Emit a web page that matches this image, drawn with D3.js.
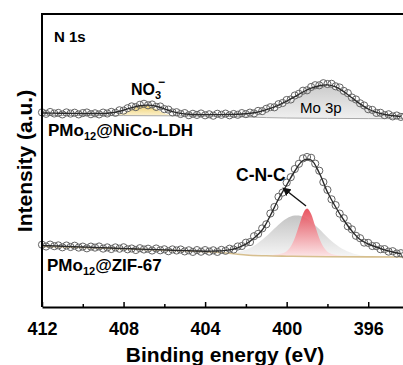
<!DOCTYPE html>
<html>
<head>
<meta charset="utf-8">
<script src="https://cdn.jsdelivr.net/npm/d3@7"></script>
<style>
  body { margin: 0; background: #fff; }
  svg text { font-family: Arial, "Liberation Sans", sans-serif; }
</style>
</head>
<body>
<div id="xps"></div>
<script>
// binding energy grid of the measured points (eV)
const energy = [
  412.0,411.8,411.6,411.4,411.2,411.0,410.8,410.6,410.4,410.2,
  410.0,409.8,409.6,409.4,409.2,409.0,408.8,408.6,408.4,408.2,
  408.0,407.8,407.6,407.4,407.2,407.0,406.8,406.6,406.4,406.2,
  406.0,405.8,405.6,405.4,405.2,405.0,404.8,404.6,404.4,404.2,
  404.0,403.8,403.6,403.4,403.2,403.0,402.8,402.6,402.4,402.2,
  402.0,401.8,401.6,401.4,401.2,401.0,400.8,400.6,400.4,400.2,
  400.0,399.8,399.6,399.4,399.2,399.0,398.8,398.6,398.4,398.2,
  398.0,397.8,397.6,397.4,397.2,397.0,396.8,396.6,396.4,396.2,
  396.0,395.8,395.6,395.4,395.2,395.0,394.8,394.6,394.4,394.2];

// PMo12@NiCo-LDH raw intensity (a.u., offset)
const nicoData = [
  194.6,193.2,195.0,193.5,194.1,192.6,194.6,193.4,194.3,192.6,
  193.9,194.5,192.8,193.7,192.6,194.4,193.5,195.1,194.2,196.7,
  196.4,198.8,200.6,199.9,202.2,203.2,201.7,202.5,200.1,200.5,
  197.9,197.4,194.6,194.8,193.0,193.9,191.8,193.2,192.1,193.5,
  191.7,192.7,191.3,193.2,192.2,193.4,191.7,193.0,192.2,193.9,
  192.9,194.4,193.6,196.1,195.9,198.2,199.8,199.7,202.8,204.0,
  207.0,207.5,211.5,213.2,216.3,216.7,220.0,221.8,221.7,223.8,
  223.0,223.2,220.7,219.5,216.1,213.9,209.5,207.5,203.7,201.5,
  197.8,197.1,194.1,194.2,191.9,192.7,190.6,191.5,190.1,190.7];

// PMo12@ZIF-67 raw intensity
const zifData = [
  62.3,60.5,62.4,60.8,61.6,59.7,61.5,60.0,61.3,59.4,
  60.4,58.7,60.4,59.4,60.5,58.4,59.6,58.0,59.6,58.3,
  59.7,57.7,58.5,57.0,58.8,57.5,58.3,56.5,58.5,56.7,
  57.7,55.8,57.6,56.5,57.5,55.6,56.7,55.1,56.9,55.3,
  56.9,55.4,56.7,55.1,57.1,56.2,58.3,57.5,60.5,61.0,
  64.3,64.9,70.8,73.1,78.6,82.7,93.5,100.0,110.2,114.4,
  124.4,129.8,138.0,143.2,148.6,150.0,149.2,143.4,136.3,124.9,
  117.1,107.7,101.9,93.4,88.8,80.7,77.6,71.2,68.8,64.4,
  64.1,61.0,60.9,57.8,57.9,55.4,55.8,53.5,53.8,52.1];

// fitted envelopes
const fitEnergy = [
  412.0,411.6,411.2,410.8,410.4,410.0,409.6,409.2,408.8,408.4,
  408.0,407.6,407.2,406.8,406.4,406.0,405.6,405.2,404.8,404.4,
  404.0,403.6,403.2,402.8,402.4,402.0,401.6,401.2,400.8,400.4,
  400.0,399.6,399.2,398.8,398.4,398.0,397.6,397.2,396.8,396.4,
  396.0,395.6,395.2,394.8,394.4];
const nicoFit = [
  194.0,193.9,193.8,193.7,193.6,193.5,193.5,193.5,193.8,194.8,
  196.8,199.3,201.3,201.9,200.7,198.2,195.4,193.6,192.8,192.5,
  192.4,192.4,192.4,192.5,192.7,193.2,194.2,196.1,198.6,201.8,
  205.8,210.4,215.0,218.8,221.3,222.1,220.1,215.3,209.2,203.1,
  198.0,194.6,192.5,191.3,190.5];
const zifFit = [
  61.5,61.2,61.0,60.6,60.3,60.0,59.7,59.4,59.1,58.8,
  58.5,58.2,57.9,57.6,57.4,57.1,56.8,56.5,56.3,56.0,
  55.8,55.9,56.1,57.1,59.2,62.8,69.0,77.0,91.5,108.0,
  122.0,136.0,146.5,147.0,134.0,115.0,100.0,87.0,76.0,67.5,
  63.0,60.0,57.2,55.0,53.2];

// backgrounds
const nicoBgE = [412, 408, 405, 403, 402, 401, 400, 398, 396, 394.2];
const nicoBg  = [191.6, 191.4, 191.1, 190.6, 190.0, 189.4, 189.0, 188.6, 188.4, 188.3];
const zifBgE  = [412, 410, 408, 406, 404, 403, 402.4, 402, 401, 400, 399, 398, 396, 394.2];
const zifBg   = [60.5, 59.5, 58.2, 56.8, 55.2, 54.0, 52.8, 52.0, 51.2, 50.8, 50.5, 50.3, 50.1, 50.0];

// fitted components (height above background)
const no3E = [408.8,408.6,408.4,408.2,408.0,407.8,407.6,407.4,407.2,407.0,
              406.8,406.6,406.4,406.2,406.0,405.8,405.6,405.4,405.2];
const no3Peak = [0.1,0.3,0.7,1.4,2.6,4.3,6.4,8.4,9.9,10.5,
                 9.9,8.4,6.4,4.3,2.6,1.4,0.7,0.3,0.1];
const moE = [402.0,401.6,401.2,400.8,400.4,400.0,399.6,399.2,398.8,398.4,
             398.0,397.6,397.2,396.8,396.4,396.0,395.6,395.2,394.8,394.4];
const moPeak = [0.8,1.7,3.2,5.7,9.3,14.0,19.4,24.8,29.2,31.7,
                31.7,29.2,24.8,19.4,14.0,9.3,5.7,3.2,1.7,0.8];
const zifCompE = [
  402.4,402.2,402.0,401.8,401.6,401.4,401.2,401.0,400.8,400.6,
  400.4,400.2,400.0,399.8,399.6,399.4,399.2,399.0,398.8,398.6,
  398.4,398.2,398.0,397.8,397.6,397.4,397.2,397.0,396.8,396.6,
  396.4,396.2,396.0];
const zifGrey = [
  2.5,3.7,5.2,7.2,9.6,12.5,15.8,19.5,23.5,27.5,
  31.4,34.9,37.8,39.8,40.9,40.9,39.8,37.8,34.9,31.4,
  27.5,23.5,19.5,15.8,12.5,9.6,7.2,5.2,3.7,2.5,
  1.7,1.1,0.7];
const zifRed = [
  0.3,0.35,0.4,0.45,0.5,0.6,0.7,0.8,1.0,1.3,
  1.8,2.8,5.0,9.8,18.3,30.3,42.5,48.0,42.5,30.3,
  18.3,9.8,5.0,2.8,1.8,1.3,1.0,0.8,0.7,0.6,
  0.5,0.45,0.4];

const xTicks = [412, 408, 404, 400, 396];
const xMinor = [410, 406, 402, 398];

const W = 403, H = 365;
const m = {left: 42, top: 14, bottom: 307};

const svg = d3.select("#xps").append("svg")
  .attr("width", W)
  .attr("height", H);

const x = d3.scaleLinear().domain([412, 394]).range([m.left, 409]);
const y = d3.scaleLinear().domain([0, 293]).range([m.bottom, m.top]);

const defs = svg.append("defs");
const grad = (id, top, bottom) => {
  const g = defs.append("linearGradient").attr("id", id)
    .attr("x1", 0).attr("y1", 0).attr("x2", 0).attr("y2", 1);
  g.append("stop").attr("offset", "0%").attr("stop-color", top);
  g.append("stop").attr("offset", "100%").attr("stop-color", bottom);
};
grad("gNo3", "#efcf68", "#fbf0cc");
grad("gMo", "#cdcdcd", "#f0f0f0");
grad("gGrey", "#c4c4c4", "#f6f6f6");
grad("gRed", "#e6424f", "#fde4e6");

// component fills
const component = (E, h, bgE, bgV, fill, op) => {
  const bg = d3.scaleLinear().domain(bgE).range(bgV);
  const area = d3.area()
    .x(d => x(d[0]))
    .y0(d => y(bg(d[0])))
    .y1(d => y(bg(d[0]) + d[1]))
    .curve(d3.curveMonotoneX);
  svg.append("path")
    .datum(E.map((e, i) => [e, h[i]]))
    .attr("fill", fill)
    .attr("fill-opacity", op)
    .attr("d", area);
};
component(no3E, no3Peak, nicoBgE, nicoBg, "url(#gNo3)", 0.95);
component(moE, moPeak, nicoBgE, nicoBg, "url(#gMo)", 1);
component(zifCompE, zifGrey, zifBgE, zifBg, "url(#gGrey)", 1);
component(zifCompE, zifRed, zifBgE, zifBg, "url(#gRed)", 0.9);

// backgrounds
const line = d3.line().x(d => x(d[0])).y(d => y(d[1])).curve(d3.curveMonotoneX);
svg.append("path")
  .datum(nicoBgE.map((e, i) => [e, nicoBg[i]]))
  .attr("fill", "none").attr("stroke", "#a8a8a8").attr("stroke-width", 1)
  .attr("d", line);
svg.append("path")
  .datum(zifBgE.map((e, i) => [e, zifBg[i]]))
  .attr("fill", "none").attr("stroke", "#d6bf8e").attr("stroke-width", 1.6)
  .attr("d", line);

// raw points
const points = (vals) => {
  svg.append("g").selectAll("circle")
    .data(energy.map((e, i) => [e, vals[i]]).filter(d => x(d[0]) < W + 4))
    .join("circle")
    .attr("cx", d => x(d[0]))
    .attr("cy", d => y(d[1]))
    .attr("r", 3.6)
    .attr("fill", "none")
    .attr("stroke", "#646464")
    .attr("stroke-width", 1);
};
points(nicoData);
points(zifData);

// envelopes
const fitLine = d3.line().x(d => x(d[0])).y(d => y(d[1])).curve(d3.curveCatmullRom);
[nicoFit, zifFit].forEach(f => {
  svg.append("path")
    .datum(fitEnergy.map((e, i) => [e, f[i]]))
    .attr("fill", "none")
    .attr("stroke", "#2a2a2a")
    .attr("stroke-width", 1.4)
    .attr("d", fitLine);
});

// frame
svg.append("path")
  .attr("fill", "none")
  .attr("stroke", "#000")
  .attr("stroke-width", 2)
  .attr("d", "M" + x(394) + "," + m.top + "H" + m.left + "V" + m.bottom);

// x axis
const ax = svg.append("g")
  .attr("transform", "translate(0," + m.bottom + ")")
  .call(d3.axisBottom(x).tickValues(xTicks).tickSize(-5).tickPadding(15).tickSizeOuter(0));
ax.select(".domain").attr("stroke-width", 2);
ax.selectAll(".tick line").attr("stroke-width", 1.5);
ax.selectAll(".tick text")
  .style("font-size", "18px")
  .style("font-weight", "bold")
  .attr("fill", "#000");
const mx = svg.append("g")
  .attr("transform", "translate(0," + m.bottom + ")")
  .call(d3.axisBottom(x).tickValues(xMinor).tickSize(-3).tickFormat(""));
mx.select(".domain").remove();
mx.selectAll(".tick line").attr("stroke-width", 1.5);

// axis titles
svg.append("text")
  .attr("x", 225).attr("y", 362)
  .attr("text-anchor", "middle")
  .style("font-size", "21px").style("font-weight", "bold")
  .text("Binding energy (eV)");
svg.append("text")
  .attr("transform", "translate(32,161) rotate(-90)")
  .attr("text-anchor", "middle")
  .style("font-size", "21px").style("font-weight", "bold")
  .text("Intensity (a.u.)");

// annotations
svg.append("text")
  .attr("x", 54).attr("y", 42)
  .style("font-size", "15px").style("font-weight", "bold")
  .text("N 1s");

const no3 = svg.append("text")
  .attr("x", 131).attr("y", 95)
  .style("font-size", "16px").style("font-weight", "bold");
no3.append("tspan").text("NO");
no3.append("tspan").attr("dy", 4).style("font-size", "11px").text("3");
svg.append("text")
  .attr("x", 158).attr("y", 86)
  .style("font-size", "12px").style("font-weight", "bold")
  .text("\u2212");

const sample = (xp, yp, tail) => {
  const t = svg.append("text")
    .attr("x", xp).attr("y", yp)
    .style("font-size", "17px").style("font-weight", "bold");
  t.append("tspan").text("PMo");
  t.append("tspan").attr("dy", 4).style("font-size", "11px").text("12");
  t.append("tspan").attr("dy", -4).text(tail);
};
sample(48, 136, "@NiCo-LDH");
sample(47, 271, "@ZIF-67");

svg.append("text")
  .attr("x", 300).attr("y", 113)
  .style("font-size", "15px")
  .text("Mo 3p");

svg.append("text")
  .attr("x", 236).attr("y", 181)
  .style("font-size", "17.5px").style("font-weight", "bold")
  .text("C-N-C");

// arrow towards the C-N-C label
defs.append("marker")
  .attr("id", "head")
  .attr("viewBox", "0 0 10 10")
  .attr("refX", 5).attr("refY", 5)
  .attr("markerWidth", 6).attr("markerHeight", 6)
  .attr("orient", "auto")
  .append("path").attr("d", "M0,0L10,5L0,10z").attr("fill", "#111");
svg.append("line")
  .attr("x1", x(399.05)).attr("y1", y(101))
  .attr("x2", x(400.05)).attr("y2", y(117))
  .attr("stroke", "#111").attr("stroke-width", 1.4)
  .attr("marker-end", "url(#head)");
</script>
</body>
</html>
